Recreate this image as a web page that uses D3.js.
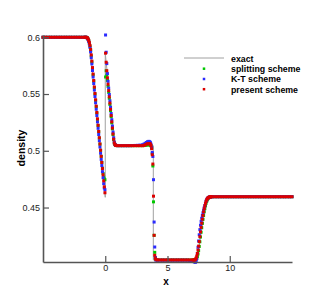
<!DOCTYPE html>
<html>
<head>
<meta charset="utf-8">
<script src="https://cdn.jsdelivr.net/npm/d3@7"></script>
<style>
  html, body { margin: 0; padding: 0; background: #fff; }
  svg { display: block; }
</style>
</head>
<body>
<div id="chart"></div>
<script>
// grid points of the numerical solutions (shared by the three schemes)
const xGrid = [
  -5.0,-4.8,-4.6,-4.4,-4.2,-4.0,-3.8,-3.6,-3.4,-3.2,-3.0,-2.8,-2.6,-2.4,-2.2,-2.0,-1.8,
  -1.625,-1.575,-1.525,-1.475,-1.425,-1.375,-1.325,-1.275,-1.225,-1.175,-1.125,-1.075,-1.025,-0.975,-0.925,-0.875,-0.825,-0.775,-0.725,-0.675,-0.625,-0.575,-0.525,-0.475,-0.425,-0.375,-0.325,-0.275,-0.225,-0.175,-0.125,-0.075,-0.025,
  0.025,0.075,0.125,0.175,0.225,0.275,0.325,0.375,0.425,0.475,0.525,0.575,0.625,0.675,0.725,0.775,0.825,0.875,
  1.0,1.2,1.4,1.6,1.8,2.0,2.2,2.4,2.6,2.8,3.0,
  3.1,3.2,3.3,3.4,3.5,
  3.575,3.625,3.675,3.725,3.775,3.825,3.875,3.925,3.975,4.025,4.075,
  4.2,4.4,4.6,4.8,5.0,5.2,5.4,5.6,5.8,6.0,6.2,6.4,6.6,6.8,7.0,
  7.1,7.15,7.2,7.25,7.3,7.35,7.4,7.45,7.5,7.55,7.6,7.65,7.7,7.75,7.8,7.85,7.9,7.95,8.0,8.05,8.1,8.15,8.2,8.25,8.3,8.35,8.4,8.45,8.5,
  8.6,8.8,9.0,9.2,9.4,9.6,9.8,10.0,10.2,10.4,10.6,10.8,11.0,11.2,11.4,11.6,11.8,12.0,12.2,12.4,12.6,12.8,13.0,13.2,13.4,13.6,13.8,14.0,14.2,14.4,14.6,14.8,15.0
];

const splitting = [
  0.6,0.6,0.6,0.6,0.6,0.6,0.6,0.6,0.6,0.6,0.6,0.6,0.6,0.6,0.6,0.6,0.6,
  0.6000,0.6000,0.5999,0.5997,0.5992,0.5983,0.5968,0.5947,0.5920,0.5883,0.5836,0.5782,0.5726,0.5669,0.5612,0.5556,0.5500,0.5444,0.5388,0.5332,0.5277,0.5222,0.5167,0.5112,0.5058,0.5004,0.4951,0.4898,0.4847,0.4800,0.4770,0.4752,0.4745,
  0.5650,0.5705,0.5668,0.5620,0.5568,0.5515,0.5462,0.5408,0.5354,0.5300,0.5246,0.5193,0.5142,0.5098,0.5068,0.5054,0.5048,0.5046,
  0.5045,0.5045,0.5045,0.5045,0.5045,0.5045,0.5045,0.5045,0.5045,0.5045,0.5045,
  0.5046,0.5048,0.5050,0.5052,0.5053,
  0.5052,0.5050,0.5043,0.5025,0.4975,0.4866,0.4550,0.4255,0.4105,0.4058,0.4042,
  0.4038,0.4038,0.4038,0.4038,0.4038,0.4038,0.4038,0.4038,0.4038,0.4038,0.4038,0.4038,0.4038,0.4038,0.4038,
  0.4038,0.4038,0.4039,0.4041,0.4045,0.4053,0.4068,0.4090,0.4120,0.4157,0.4198,0.4240,0.4282,0.4322,0.4360,0.4396,0.4430,0.4462,0.4490,0.4515,0.4537,0.4555,0.4568,0.4578,0.4585,0.4589,0.4592,0.4594,0.4595,
  0.4595,0.4595,0.4595,0.4595,0.4595,0.4595,0.4595,0.4595,0.4595,0.4595,0.4595,0.4595,0.4595,0.4595,0.4595,0.4595,0.4595,0.4595,0.4595,0.4595,0.4595,0.4595,0.4595,0.4595,0.4595,0.4595,0.4595,0.4595,0.4595,0.4595,0.4595,0.4595,0.4595
];

const ktScheme = [
  0.6,0.6,0.6,0.6,0.6,0.6,0.6,0.6,0.6,0.6,0.6,0.6,0.6,0.6,0.6,0.6,0.6,
  0.6000,0.6000,0.5999,0.5996,0.5990,0.5979,0.5963,0.5940,0.5910,0.5870,0.5820,0.5765,0.5707,0.5650,0.5592,0.5535,0.5478,0.5422,0.5366,0.5310,0.5254,0.5198,0.5143,0.5088,0.5033,0.4978,0.4924,0.4870,0.4816,0.4763,0.4710,0.4672,0.4657,
  0.6020,0.5868,0.5768,0.5680,0.5612,0.5552,0.5496,0.5440,0.5384,0.5328,0.5273,0.5218,0.5165,0.5115,0.5078,0.5058,0.5050,0.5047,
  0.5045,0.5045,0.5045,0.5045,0.5045,0.5045,0.5046,0.5047,0.5048,0.5050,0.5053,
  0.5058,0.5065,0.5073,0.5080,0.5083,
  0.5080,0.5072,0.5058,0.5030,0.4985,0.4950,0.4745,0.4372,0.4152,0.4060,0.4036,
  0.4036,0.4036,0.4036,0.4036,0.4036,0.4036,0.4036,0.4036,0.4036,0.4036,0.4036,0.4036,0.4036,0.4033,0.4030,
  0.4026,0.4022,0.4019,0.4018,0.4024,0.4048,0.4095,0.4150,0.4205,0.4260,0.4305,0.4345,0.4378,0.4405,0.4430,0.4454,0.4476,0.4497,0.4517,0.4537,0.4555,0.4568,0.4578,0.4584,0.4588,0.4591,0.4593,0.4594,0.4595,
  0.4595,0.4595,0.4595,0.4595,0.4595,0.4595,0.4595,0.4595,0.4595,0.4595,0.4595,0.4595,0.4595,0.4595,0.4595,0.4595,0.4595,0.4595,0.4595,0.4595,0.4595,0.4595,0.4595,0.4595,0.4595,0.4595,0.4595,0.4595,0.4595,0.4595,0.4595,0.4595,0.4595
];

const present = [
  0.6,0.6,0.6,0.6,0.6,0.6,0.6,0.6,0.6,0.6,0.6,0.6,0.6,0.6,0.6,0.6,0.6,
  0.6000,0.6000,0.5999,0.5997,0.5993,0.5985,0.5972,0.5953,0.5928,0.5893,0.5845,0.5790,0.5733,0.5676,0.5619,0.5562,0.5505,0.5449,0.5393,0.5337,0.5281,0.5225,0.5170,0.5115,0.5060,0.5005,0.4951,0.4897,0.4843,0.4789,0.4735,0.4682,0.4630,
  0.5860,0.5780,0.5705,0.5643,0.5586,0.5530,0.5475,0.5420,0.5365,0.5310,0.5255,0.5200,0.5148,0.5102,0.5070,0.5055,0.5049,0.5046,
  0.5045,0.5045,0.5045,0.5045,0.5045,0.5045,0.5045,0.5045,0.5045,0.5045,0.5045,
  0.5047,0.5052,0.5057,0.5062,0.5064,
  0.5063,0.5058,0.5046,0.5018,0.4965,0.4883,0.4600,0.4255,0.4079,0.4050,0.4040,
  0.4038,0.4038,0.4038,0.4038,0.4038,0.4038,0.4038,0.4038,0.4038,0.4038,0.4038,0.4038,0.4038,0.4038,0.4038,
  0.4036,0.4037,0.4040,0.4045,0.4055,0.4072,0.4095,0.4125,0.4160,0.4200,0.4243,0.4285,0.4325,0.4362,0.4397,0.4430,0.4462,0.4490,0.4515,0.4537,0.4555,0.4568,0.4578,0.4584,0.4588,0.4591,0.4593,0.4594,0.4595,
  0.4595,0.4595,0.4595,0.4595,0.4595,0.4595,0.4595,0.4595,0.4595,0.4595,0.4595,0.4595,0.4595,0.4595,0.4595,0.4595,0.4595,0.4595,0.4595,0.4595,0.4595,0.4595,0.4595,0.4595,0.4595,0.4595,0.4595,0.4595,0.4595,0.4595,0.4595,0.4595,0.4595
];

// exact solution (breakpoints of the piecewise curve)
const exactX = [-5, -1.32, -0.66, 0, 0, 0.36, 0.76, 3.86, 3.86, 7.36, 8.17, 15];
const exactY = [0.6, 0.6, 0.529, 0.459, 0.586, 0.547, 0.5045, 0.5045, 0.4038, 0.4038, 0.4595, 0.4595];

const xMajorTicks = [0, 5, 10];
const xMinorTicks = [-4, -3, -2, -1, 1, 2, 3, 4, 6, 7, 8, 9, 11, 12, 13, 14];
const yMajorTicks = [0.45, 0.5, 0.55, 0.6];
const yMinorTicks = [0.41, 0.42, 0.43, 0.44, 0.46, 0.47, 0.48, 0.49, 0.51, 0.52, 0.53, 0.54, 0.56, 0.57, 0.58, 0.59];

const seriesNames = ["exact", "splitting scheme", "K-T scheme", "present scheme"];

const width = 332, height = 296;
const svg = d3.select("#chart").append("svg")
  .attr("width", width)
  .attr("height", height);

const x = d3.scaleLinear().domain([-5, 15]).range([43, 292]);
const y = d3.scaleLinear().domain([0.402, 0.602]).range([262, 35]);

const axisColor = "#555";
const font = "Liberation Sans, Arial, Helvetica, sans-serif";

// exact line
svg.append("path")
  .datum(d3.zip(exactX, exactY))
  .attr("fill", "none")
  .attr("stroke", "#a0a0a0")
  .attr("stroke-width", 1)
  .attr("d", d3.line().x(d => x(d[0])).y(d => y(d[1])));

// scheme points, drawn green, blue, red
const s = 3;
const schemes = [
  { vals: splitting, color: "#00c800" },
  { vals: ktScheme, color: "#2b2bff" },
  { vals: present, color: "#dc0000" }
];
schemes.forEach(sc => {
  if (sc.vals.length !== xGrid.length) console.error("length mismatch", sc.vals.length, xGrid.length);
  svg.append("g")
    .selectAll("rect")
    .data(d3.zip(xGrid, sc.vals))
    .join("rect")
    .attr("x", d => x(d[0]) - s / 2)
    .attr("y", d => y(d[1]) - s / 2)
    .attr("width", s)
    .attr("height", s)
    .attr("fill", sc.color);
});

// axes
const gx = svg.append("g").attr("transform", `translate(0,${y.range()[0]})`);
gx.call(d3.axisBottom(x).tickValues(xMinorTicks).tickSizeInner(-3).tickSizeOuter(0).tickFormat(""));
gx.call(d3.axisBottom(x).tickValues(xMajorTicks).tickSizeInner(-6).tickSizeOuter(0).tickPadding(3)
  .tickFormat(d3.format("d")));

const gy = svg.append("g").attr("transform", `translate(${x.range()[0]},0)`);
gy.call(d3.axisLeft(y).tickValues(yMinorTicks).tickSizeInner(-3).tickSizeOuter(0).tickFormat(""));
gy.call(d3.axisLeft(y).tickValues(yMajorTicks).tickSizeInner(-6).tickSizeOuter(0).tickPadding(3)
  .tickFormat(d => String(d)));

svg.selectAll(".domain").attr("stroke", axisColor).attr("stroke-width", 1.6);
svg.selectAll(".tick line").attr("stroke", axisColor).attr("stroke-width", 1.2);
svg.selectAll(".tick text")
  .attr("font-family", font)
  .attr("font-size", 9)
  .attr("fill", "#222");

// axis titles
svg.append("text")
  .attr("x", 166).attr("y", 284.5)
  .attr("text-anchor", "middle")
  .attr("font-family", font).attr("font-weight", "bold").attr("font-size", 10)
  .text("x");

svg.append("text")
  .attr("transform", "translate(25,148) rotate(-90)")
  .attr("text-anchor", "middle")
  .attr("font-family", font).attr("font-weight", "bold").attr("font-size", 10.5)
  .text("density");

// legend
const lg = svg.append("g");
const rowY = [61.7, 72, 82.3, 92.5];
lg.append("line")
  .attr("x1", 184).attr("x2", 224)
  .attr("y1", rowY[0] - 3.7).attr("y2", rowY[0] - 3.7)
  .attr("stroke", "#a0a0a0").attr("stroke-width", 1);
schemes.forEach((sc, i) => {
  lg.append("rect")
    .attr("x", 204 - 1.25).attr("y", rowY[i + 1] - 3.3 - 1.25)
    .attr("width", 2.5).attr("height", 2.5)
    .attr("fill", sc.color);
});
seriesNames.forEach((name, i) => {
  lg.append("text")
    .attr("x", 231).attr("y", rowY[i])
    .attr("font-family", font).attr("font-weight", "bold").attr("font-size", 8.8)
    .attr("fill", "#000")
    .text(name);
});
</script>
</body>
</html>
